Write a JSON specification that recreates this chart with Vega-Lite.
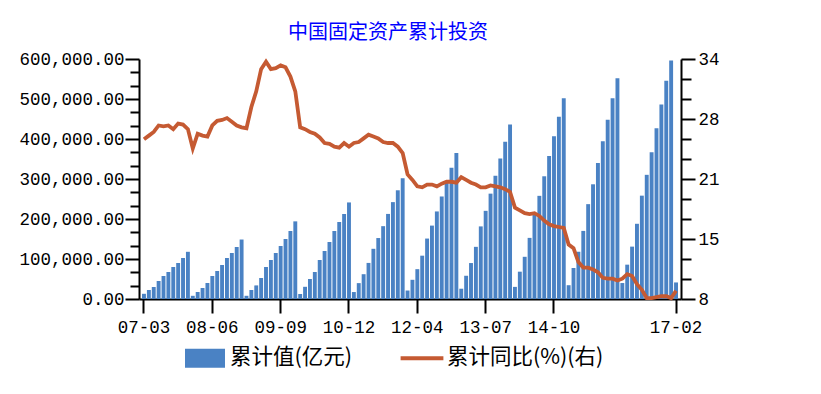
{
  "$schema": "https://vega.github.io/schema/vega-lite/v6.json",
  "width": 542,
  "height": 240,
  "autosize": "none",
  "padding": {"left": 139, "top": 59, "right": 140, "bottom": 95},
  "background": "white",
  "title": {
    "text": "中国固定资产累计投资",
    "font": "Noto Sans CJK SC",
    "fontSize": 20,
    "fontWeight": "normal",
    "color": "#0000ff",
    "anchor": "middle",
    "dx": -22,
    "offset": 7
  },
  "config": {
    "view": {"stroke": null},
    "axis": {
      "domainColor": "#000000",
      "domainWidth": 2,
      "tickColor": "#000000",
      "tickWidth": 2,
      "labelColor": "#000000",
      "labelFont": "Liberation Mono",
      "labelFontSize": 17.5,
      "grid": false,
      "title": null
    }
  },
  "data": {
    "values": [
      {"m": "07-03", "v": 13000, "g": 25.3},
      {"m": "07-04", "v": 22500, "g": 25.7},
      {"m": "07-05", "v": 30000, "g": 26.1},
      {"m": "07-06", "v": 45000, "g": 26.8},
      {"m": "07-07", "v": 57500, "g": 26.7},
      {"m": "07-08", "v": 67500, "g": 26.8},
      {"m": "07-09", "v": 80000, "g": 26.4},
      {"m": "07-10", "v": 90000, "g": 27.0},
      {"m": "07-11", "v": 102500, "g": 26.9},
      {"m": "07-12", "v": 118000, "g": 26.4},
      {"m": "08-02", "v": 8000, "g": 24.3},
      {"m": "08-03", "v": 17500, "g": 25.9},
      {"m": "08-04", "v": 27500, "g": 25.7},
      {"m": "08-05", "v": 40000, "g": 25.6},
      {"m": "08-06", "v": 57500, "g": 26.8},
      {"m": "08-07", "v": 70000, "g": 27.3},
      {"m": "08-08", "v": 85000, "g": 27.4},
      {"m": "08-09", "v": 102500, "g": 27.6},
      {"m": "08-10", "v": 115000, "g": 27.2},
      {"m": "08-11", "v": 130000, "g": 26.8},
      {"m": "08-12", "v": 148700, "g": 26.6},
      {"m": "09-02", "v": 8000, "g": 26.5},
      {"m": "09-03", "v": 22500, "g": 28.8},
      {"m": "09-04", "v": 34000, "g": 30.5},
      {"m": "09-05", "v": 52500, "g": 32.9},
      {"m": "09-06", "v": 80000, "g": 33.7},
      {"m": "09-07", "v": 97500, "g": 32.9},
      {"m": "09-08", "v": 115000, "g": 33.0},
      {"m": "09-09", "v": 132500, "g": 33.3},
      {"m": "09-10", "v": 150000, "g": 33.1},
      {"m": "09-11", "v": 170000, "g": 32.1},
      {"m": "09-12", "v": 194100, "g": 30.5},
      {"m": "10-02", "v": 12500, "g": 26.6},
      {"m": "10-03", "v": 30500, "g": 26.4},
      {"m": "10-04", "v": 50000, "g": 26.1},
      {"m": "10-05", "v": 67500, "g": 25.9},
      {"m": "10-06", "v": 97500, "g": 25.5},
      {"m": "10-07", "v": 120000, "g": 24.9},
      {"m": "10-08", "v": 142500, "g": 24.8},
      {"m": "10-09", "v": 170000, "g": 24.5},
      {"m": "10-10", "v": 192500, "g": 24.4},
      {"m": "10-11", "v": 212500, "g": 24.9},
      {"m": "10-12", "v": 241400, "g": 24.5},
      {"m": "11-02", "v": 17400, "g": 24.9},
      {"m": "11-03", "v": 39700, "g": 25.0},
      {"m": "11-04", "v": 62000, "g": 25.4},
      {"m": "11-05", "v": 90200, "g": 25.8},
      {"m": "11-06", "v": 125500, "g": 25.6},
      {"m": "11-07", "v": 152400, "g": 25.4},
      {"m": "11-08", "v": 182100, "g": 25.0},
      {"m": "11-09", "v": 212700, "g": 24.9},
      {"m": "11-10", "v": 242200, "g": 24.9},
      {"m": "11-11", "v": 271800, "g": 24.5},
      {"m": "11-12", "v": 301900, "g": 23.8},
      {"m": "12-02", "v": 21200, "g": 21.5},
      {"m": "12-03", "v": 48000, "g": 20.9},
      {"m": "12-04", "v": 74600, "g": 20.2},
      {"m": "12-05", "v": 108300, "g": 20.1},
      {"m": "12-06", "v": 151100, "g": 20.4},
      {"m": "12-07", "v": 183500, "g": 20.4},
      {"m": "12-08", "v": 218900, "g": 20.2},
      {"m": "12-09", "v": 256300, "g": 20.5},
      {"m": "12-10", "v": 292300, "g": 20.7},
      {"m": "12-11", "v": 328100, "g": 20.7},
      {"m": "12-12", "v": 364800, "g": 20.6},
      {"m": "13-02", "v": 25700, "g": 21.2},
      {"m": "13-03", "v": 58100, "g": 20.9},
      {"m": "13-04", "v": 89900, "g": 20.6},
      {"m": "13-05", "v": 130400, "g": 20.4},
      {"m": "13-06", "v": 181500, "g": 20.1},
      {"m": "13-07", "v": 220400, "g": 20.1},
      {"m": "13-08", "v": 263400, "g": 20.3},
      {"m": "13-09", "v": 308100, "g": 20.2},
      {"m": "13-10", "v": 351100, "g": 20.1},
      {"m": "13-11", "v": 393400, "g": 19.9},
      {"m": "13-12", "v": 436500, "g": 19.6},
      {"m": "14-02", "v": 30300, "g": 17.9},
      {"m": "14-03", "v": 68300, "g": 17.6},
      {"m": "14-04", "v": 105500, "g": 17.3},
      {"m": "14-05", "v": 152800, "g": 17.2},
      {"m": "14-06", "v": 212900, "g": 17.3},
      {"m": "14-07", "v": 257900, "g": 17.0},
      {"m": "14-08", "v": 306800, "g": 16.5},
      {"m": "14-09", "v": 357700, "g": 16.1},
      {"m": "14-10", "v": 406900, "g": 15.9},
      {"m": "14-11", "v": 455500, "g": 15.8},
      {"m": "14-12", "v": 502000, "g": 15.7},
      {"m": "15-02", "v": 34477, "g": 13.9},
      {"m": "15-03", "v": 77511, "g": 13.5},
      {"m": "15-04", "v": 118123, "g": 12.0},
      {"m": "15-05", "v": 170241, "g": 11.4},
      {"m": "15-06", "v": 237132, "g": 11.4},
      {"m": "15-07", "v": 286769, "g": 11.2},
      {"m": "15-08", "v": 340255, "g": 10.9},
      {"m": "15-09", "v": 394531, "g": 10.3},
      {"m": "15-10", "v": 448393, "g": 10.2},
      {"m": "15-11", "v": 502013, "g": 10.2},
      {"m": "15-12", "v": 551590, "g": 10.0},
      {"m": "16-02", "v": 39914, "g": 10.2},
      {"m": "16-03", "v": 85843, "g": 10.7},
      {"m": "16-04", "v": 130947, "g": 10.5},
      {"m": "16-05", "v": 188036, "g": 9.6},
      {"m": "16-06", "v": 258360, "g": 9.0},
      {"m": "16-07", "v": 310430, "g": 8.1},
      {"m": "16-08", "v": 366633, "g": 8.1},
      {"m": "16-09", "v": 426906, "g": 8.2},
      {"m": "16-10", "v": 486431, "g": 8.3},
      {"m": "16-11", "v": 545505, "g": 8.3},
      {"m": "16-12", "v": 596501, "g": 8.1},
      {"m": "17-02", "v": 41378, "g": 8.9}
    ]
  },
  "encoding": {
    "x": {
      "field": "m",
      "type": "ordinal",
      "sort": null,
      "scale": {"paddingInner": 0.2, "paddingOuter": 0.62},
      "axis": {
        "values": ["07-03", "08-06", "09-09", "10-12", "12-04", "13-07", "14-10", "17-02"],
        "labelAngle": 0,
        "tickSize": 14,
        "labelPadding": 5
      }
    }
  },
  "layer": [
    {
      "mark": {"type": "bar"},
      "encoding": {
        "y": {
          "field": "v",
          "type": "quantitative",
          "scale": {"domain": [0, 600000], "nice": false},
          "axis": {
            "orient": "left",
            "values": [0, 33333.333, 66666.667, 100000, 133333.333, 166666.667, 200000, 233333.333, 266666.667, 300000, 333333.333, 366666.667, 400000, 433333.333, 466666.667, 500000, 533333.333, 566666.667, 600000],
            "labelExpr": "datum.value % 100000 === 0 ? format(datum.value, ',.2f') : ''",
            "tickSize": {"condition": {"test": "datum.value % 100000 === 0", "value": 14}, "value": 9},
            "labelPadding": 1
          }
        },
        "color": {
          "datum": "累计值(亿元)",
          "type": "nominal",
          "scale": {"domain": ["累计值(亿元)", "累计同比(%)(右)"], "range": ["#4a82c4", "#c55a32"]},
          "legend": {
            "orient": "none",
            "legendX": 46,
            "legendY": 279,
            "direction": "horizontal",
            "title": null,
            "padding": 0,
            "symbolSize": 1600,
            "labelFont": "Noto Sans CJK SC",
            "labelFontSize": 21.5,
            "labelColor": "#000000",
            "labelOffset": 5,
            "columnPadding": 47,
            "encode": {
              "symbols": {
                "update": {
                  "shape": {"signal": "datum.value === '累计值(亿元)' ? 'M-1,-0.47H1V0.47H-1Z' : 'M-1.07,-0.1H1.07V0.1H-1.07Z'"},
                  "fill": {"signal": "datum.value === '累计值(亿元)' ? '#4a82c4' : '#c55a32'"},
                  "strokeWidth": {"value": 0},
                  "opacity": {"value": 1},
                  "fillOpacity": {"value": 1}
                }
              }
            }
          }
        }
      }
    },
    {
      "mark": {"type": "line", "strokeWidth": 3.8},
      "encoding": {
        "y": {
          "field": "g",
          "type": "quantitative",
          "scale": {"domain": [8, 34], "nice": false, "zero": false},
          "axis": {
            "orient": "right",
            "values": [8, 10.1667, 12.3333, 14.5, 16.6667, 18.8333, 21, 23.1667, 25.3333, 27.5, 29.6667, 31.8333, 34],
            "labelExpr": "indexof([8, 14.5, 21, 27.5, 34], datum.value) >= 0 ? format(round(datum.value), 'd') : ''",
            "tickSize": {"condition": {"test": "indexof([8, 14.5, 21, 27.5, 34], datum.value) >= 0", "value": 14}, "value": 10},
            "labelPadding": 3
          }
        },
        "color": {"datum": "累计同比(%)(右)", "type": "nominal"}
      }
    }
  ],
  "resolve": {"scale": {"y": "independent"}}
}
